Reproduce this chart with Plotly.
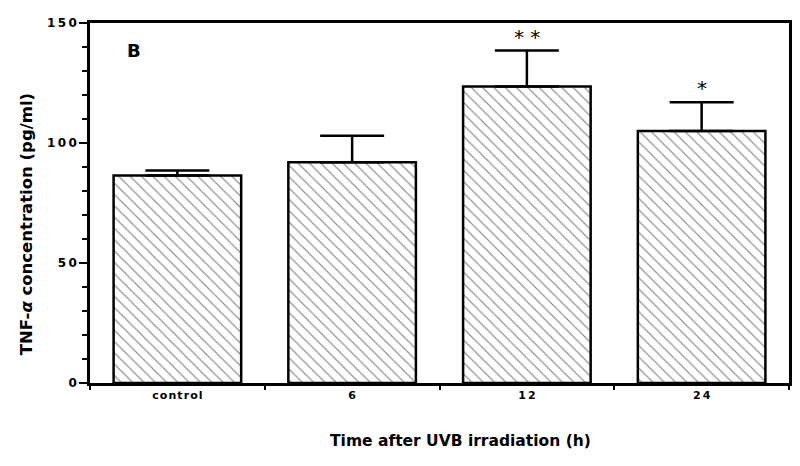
import plotly.graph_objects as go

categories = ["control", "6", "12", "24"]
means = [86.5, 92.0, 123.5, 105.0]
sem_up = [2.0, 11.0, 15.0, 12.0]
stars = ["", "", "* *", "*"]
y_tickvals = [0, 50, 100, 150]
y_ticktext = ["0", "5\u20090", "1\u20090\u20090", "1\u20095\u20090"]
x_ticktext = ["c\u200ao\u200an\u200at\u200ar\u200ao\u200al", "6", "1\u20092", "2\u20094"]

FONT = "DejaVu Sans"

fig = go.Figure()
fig.add_trace(go.Bar(
    x=categories, y=means,
    marker=dict(color="white",
                line=dict(color="black", width=2.5),
                pattern=dict(shape="\\", fgcolor="black", bgcolor="white",
                             size=8, solidity=0.14)),
    error_y=dict(type="data", array=sem_up, arrayminus=[0]*len(sem_up),
                 symmetric=False, color="black", thickness=2.5, width=32),
    width=0.73,
))

for i, (m, e, s) in enumerate(zip(means, sem_up, stars)):
    if s:
        fig.add_annotation(x=i, y=m + e, text=s, showarrow=False,
                           yanchor="bottom", yshift=0,
                           font=dict(family=FONT, size=20, color="black"))

fig.add_annotation(x=0.05, xref="paper", y=138.5, text="<b>B</b>", showarrow=False,
                   font=dict(family=FONT, size=18, color="black"))

fig.add_annotation(x=-0.107, xref="paper", y=0.44, yref="paper", textangle=-90,
                   text="<b>TNF-<i>α</i> concentration (pg/ml)</b>", showarrow=False,
                   font=dict(family=FONT, size=16.5, color="black"))
fig.add_annotation(x=0.53, xref="paper", y=-0.162, yref="paper", yanchor="middle",
                   text="<b>Time after UVB irradiation (h)</b>", showarrow=False,
                   font=dict(family=FONT, size=15.5, color="black"))

fig.update_layout(
    width=792, height=458,
    margin=dict(l=82, r=8, t=9, b=83),
    plot_bgcolor="white", paper_bgcolor="white",
    showlegend=False,
    font=dict(family=FONT, color="black"),
    xaxis=dict(type="category", range=[-0.5, 3.5], tickson="boundaries",
               ticks="outside", ticklen=4, tickangle=0,
               tickwidth=2, tickcolor="black", showline=True, linewidth=2.5,
               linecolor="black", mirror=True, showgrid=False,
               tickvals=categories, ticktext=x_ticktext,
               tickfont=dict(family=FONT, size=11, color="black", weight="bold")),
    yaxis=dict(range=[0, 150], tickvals=y_tickvals, ticktext=y_ticktext,
               ticks="outside", ticklen=8, tickwidth=2, tickcolor="black",
               minor=dict(dtick=10, ticks="outside", ticklen=5, tickwidth=2,
                          tickcolor="black"),
               showline=True, linewidth=2.5, linecolor="black", mirror=True,
               showgrid=False, zeroline=False,
               tickfont=dict(family=FONT, size=12, color="black", weight="bold")),
)

fig.write_html("out.html")
